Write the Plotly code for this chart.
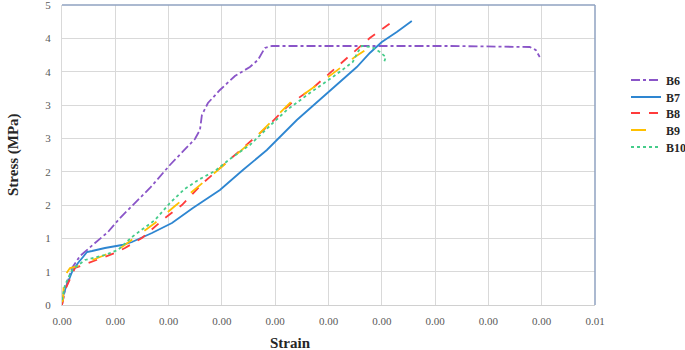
import plotly.graph_objects as go

# ---- data (strain, stress in MPa) ----
b6_strain = [0, 0.000056, 0.000188, 0.000338, 0.000619, 0.000863, 0.001088, 0.001369, 0.00165, 0.002025,
             0.002306, 0.002494, 0.002588, 0.002625, 0.002738, 0.002963, 0.003244, 0.003525, 0.003675,
             0.003806, 0.003938, 0.0054, 0.007275, 0.008775, 0.008888, 0.008963]
b6_stress = [0, 0.225, 0.555, 0.735, 0.93, 1.095, 1.305, 1.53, 1.755, 2.10,
             2.325, 2.49, 2.625, 2.85, 3.03, 3.225, 3.435, 3.57, 3.675,
             3.855, 3.885, 3.885, 3.885, 3.87, 3.825, 3.72]

b7_strain = [0, 0.000056, 0.000188, 0.0003, 0.000394, 0.000469, 0.000563, 0.000806, 0.001125, 0.001313,
             0.001688, 0.002063, 0.002456, 0.002963, 0.003394, 0.003844, 0.004406, 0.004969, 0.005531,
             0.005775, 0.006, 0.006281, 0.006563]
b7_stress = [0.075, 0.225, 0.495, 0.63, 0.72, 0.795, 0.81, 0.855, 0.90, 0.945,
             1.08, 1.23, 1.455, 1.725, 2.025, 2.325, 2.775, 3.18, 3.57,
             3.78, 3.945, 4.095, 4.26]

b8_strain = [0, 0.000056, 0.000244, 0.000488, 0.00075, 0.000994, 0.001181, 0.0015, 0.001931, 0.00225,
             0.002644, 0.003094, 0.003469, 0.003844, 0.004219, 0.004331, 0.004706, 0.005025, 0.005344,
             0.005588, 0.005775, 0.006188]
b8_stress = [0, 0.225, 0.555, 0.63, 0.705, 0.78, 0.855, 1.005, 1.305, 1.50,
             1.83, 2.145, 2.4, 2.67, 2.97, 3.045, 3.255, 3.48, 3.705,
             3.87, 4.005, 4.245]

b9_strain = [0, 0.000019, 0.000038, 0.00015, 0.000244, 0.000488, 0.000806, 0.001125, 0.001425, 0.001744,
             0.002119, 0.002644, 0.00315, 0.003525, 0.0039, 0.004219, 0.004331, 0.004519, 0.004969,
             0.005494, 0.005775]
b9_stress = [0.045, 0.075, 0.42, 0.555, 0.57, 0.645, 0.75, 0.87, 1.05, 1.23,
             1.485, 1.83, 2.175, 2.43, 2.73, 2.97, 3.075, 3.15, 3.405,
             3.72, 3.87]

b10_strain = [0, 0.000056, 0.000188, 0.000431, 0.000806, 0.00105, 0.001313, 0.001744, 0.002025, 0.0023,
              0.002588, 0.002869, 0.003150, 0.003525, 0.003956, 0.004219, 0.00465, 0.005081, 0.005456,
              0.00555, 0.005625, 0.005813, 0.005963, 0.006075, 0.006038]
b10_stress = [0.075, 0.3, 0.525, 0.675, 0.75, 0.825, 1.02, 1.275, 1.53, 1.74,
              1.89, 2.01, 2.19, 2.4, 2.73, 2.925, 3.18, 3.42, 3.645,
              3.795, 3.885, 3.87, 3.795, 3.72, 3.63]

series_names = ["B6", "B7", "B8", "B9", "B10"]
x_tickvals = [0.001 * i for i in range(11)]
x_ticktext = ["0.00"] * 10 + ["0.01"]
y_tickvals = [0.5 * i for i in range(10)]
y_ticktext = ["0", "1", "1", "2", "2", "3", "3", "4", "4", "5"]

styles = [
    dict(color="#8A55C8", dash="dashdot", width=1.8),
    dict(color="#2E86D1", dash="solid", width=1.8),
    dict(color="#FF3B3B", dash="dash", width=1.8),
    dict(color="#FFC000", dash="longdash", width=1.8),
    dict(color="#45CC8A", dash="dot", width=1.8),
]
xs = [b6_strain, b7_strain, b8_strain, b9_strain, b10_strain]
ys = [b6_stress, b7_stress, b8_stress, b9_stress, b10_stress]

serif = "Liberation Serif"
legend_keys = ["legend", "legend2", "legend3", "legend4", "legend5"]
legend_rows = [80, 97, 113, 130, 147]  # vertical pixel centres of the legend rows

fig = go.Figure()
for name, x, y, st, lk in zip(series_names, xs, ys, styles, legend_keys):
    fig.add_trace(go.Scatter(x=x, y=y, name=name, mode="lines", line=st, legend=lk))

legend_layout = {}
for lk, row in zip(legend_keys, legend_rows):
    legend_layout[lk] = dict(
        xref="container", yref="container",
        x=626 / 685, y=1 - row / 350, xanchor="left", yanchor="middle",
        font=dict(family=serif, size=12, color="#262626", weight="bold"),
        bgcolor="rgba(0,0,0,0)", borderwidth=0,
    )

fig.update_layout(
    width=685, height=350, autosize=False,
    margin=dict(l=62, r=90, t=5, b=45),
    plot_bgcolor="white", paper_bgcolor="white",
    font=dict(family=serif, color="#595959", size=11),
    showlegend=True,
    xaxis=dict(range=[0, 0.01], tickvals=x_tickvals, ticktext=x_ticktext,
               showgrid=True, gridcolor="#D9D9D9", gridwidth=1,
               showline=True, linecolor="#D0D0D0", linewidth=1,
               zeroline=False, ticks="", ticklabelstandoff=6,
               ticklabeloverflow="allow", automargin=False,
               tickfont=dict(family=serif, size=11, color="#595959")),
    yaxis=dict(range=[0, 4.5], tickvals=y_tickvals, ticktext=y_ticktext,
               showgrid=True, gridcolor="#D9D9D9", gridwidth=1,
               showline=True, linecolor="#D9D9D9", linewidth=1,
               zeroline=False, ticks="", ticklabelstandoff=8,
               ticklabeloverflow="allow", automargin=False,
               tickfont=dict(family=serif, size=11, color="#595959")),
    shapes=[
        dict(type="line", xref="paper", yref="paper", x0=0, x1=1, y0=1, y1=1,
             line=dict(color="#8FA2C0", width=1.5)),
        dict(type="line", xref="paper", yref="paper", x0=1, x1=1, y0=0, y1=1,
             line=dict(color="#8FA2C0", width=1.5)),
    ],
    annotations=[
        dict(text="<b>Strain</b>", xref="paper", yref="paper", x=(290 - 62) / 533, y=-0.127,
             xanchor="center", yanchor="middle", showarrow=False,
             font=dict(family=serif, size=15, color="#262626")),
        dict(text="<b>Stress (MPa)</b>", xref="paper", yref="paper", x=(13 - 62) / 533, y=0.5,
             xanchor="center", yanchor="middle", showarrow=False, textangle=-90,
             font=dict(family=serif, size=15, color="#262626")),
    ],
    **legend_layout,
)

fig.write_html(
    "out.html",
    config={"displayModeBar": False, "responsive": False},
    post_script="document.body.style.margin='0px';document.body.style.overflow='hidden';",
)
